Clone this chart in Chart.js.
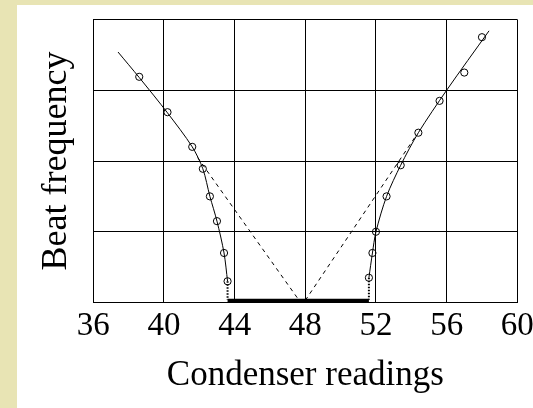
<!DOCTYPE html>
<html>
<head>
<meta charset="utf-8">
<script src="https://cdn.jsdelivr.net/npm/chart.js@4/dist/chart.umd.min.js"></script>
<style>
  html, body { margin: 0; padding: 0; width: 533px; height: 408px; overflow: hidden; background: #e8e4b4; }
  #wrap { position: absolute; left: 17px; top: 5px; width: 560px; height: 403px; background: #ffffff; }
  canvas { display: block; }
</style>
</head>
<body>
<div id="wrap"><canvas id="c" width="560" height="403"></canvas></div>
<script>
// Measured readings on the low side of the null
const readingsLow = [38.6, 40.2, 41.6, 42.2, 42.6, 43.0, 43.4, 43.6];
const beatsLow    = [3.19, 2.69, 2.20, 1.89, 1.50, 1.15, 0.70, 0.30];
// Measured readings on the high side of the null
const readingsHigh = [51.6, 51.8, 52.0, 52.6, 53.4, 54.4, 55.6, 57.0, 58.0];
const beatsHigh    = [0.35, 0.70, 1.00, 1.50, 1.94, 2.40, 2.85, 3.25, 3.75];

// Smooth curves drawn through the readings
const curveLowX  = [37.4, 38.6, 40.2, 41.6, 42.2, 42.6, 43.0, 43.4, 43.6];
const curveLowY  = [3.54, 3.18, 2.68, 2.20, 1.89, 1.50, 1.15, 0.70, 0.30];
const curveHighX = [51.6, 51.8, 52.0, 52.6, 53.4, 54.4, 56.0, 58.4];
const curveHighY = [0.35, 0.70, 1.00, 1.50, 1.94, 2.40, 3.00, 3.84];

// Straight-line extrapolations of the outer parts towards zero beat
const tangentLowX  = [41.9, 47.65];
const tangentLowY  = [2.05, 0.03];
const tangentHighX = [48.0, 54.3];
const tangentHighY = [0.03, 2.37];

// Silent band between the last audible readings
const bandX = [43.6, 51.6];
const bandY = [0.025, 0.025];
const dropY = [0.30, 0.04];

// Axis ticks
const xTicks = [36, 40, 44, 48, 52, 56, 60];
const yTicks = [0, 1, 2, 3, 4];

const pts = (xs, ys) => xs.map((x, i) => ({ x: x, y: ys[i] }));

const lineDs = (data, extra) => Object.assign({
  type: 'line',
  data: data,
  borderColor: '#000',
  borderWidth: 1,
  pointRadius: 0,
  fill: false,
  clip: false
}, extra || {});

const pointDs = (data) => ({
  type: 'scatter',
  data: data,
  showLine: false,
  pointStyle: 'circle',
  pointRadius: 3.6,
  pointBorderWidth: 1,
  pointBorderColor: '#000',
  pointBackgroundColor: 'rgba(0,0,0,0)',
  clip: false
});

const serif = 'Liberation Serif, Times New Roman, serif';
const lastLow = readingsLow[readingsLow.length - 1];

new Chart(document.getElementById('c'), {
  data: {
    datasets: [
      lineDs(pts(tangentLowX, tangentLowY), { borderDash: [4, 4] }),
      lineDs(pts(tangentHighX, tangentHighY), { borderDash: [4, 4] }),
      lineDs(pts(bandX, bandY), { borderWidth: 4, borderCapStyle: 'butt' }),
      lineDs(pts([lastLow, lastLow], [beatsLow[beatsLow.length - 1], dropY[1]]), { borderWidth: 2, borderDash: [1.5, 1.5] }),
      lineDs(pts([readingsHigh[0], readingsHigh[0]], [beatsHigh[0], dropY[1]]), { borderWidth: 2, borderDash: [1.5, 1.5] }),
      lineDs(pts(curveLowX, curveLowY), { tension: 0.3 }),
      lineDs(pts(curveHighX, curveHighY), { tension: 0.3 }),
      pointDs(pts(readingsLow, beatsLow)),
      pointDs(pts(readingsHigh, beatsHigh))
    ]
  },
  options: {
    responsive: false,
    animation: false,
    devicePixelRatio: 1,
    layout: { padding: { left: 14, top: 14.5, right: 59.7, bottom: 7.1 } },
    plugins: { legend: { display: false }, tooltip: { enabled: false } },
    scales: {
      x: {
        type: 'linear',
        min: 36,
        max: 60,
        afterBuildTicks: (s) => { s.ticks = xTicks.map(v => ({ value: v })); },
        ticks: {
          color: '#000',
          padding: 4,
          maxRotation: 0,
          autoSkip: false,
          font: { family: serif, size: 33 }
        },
        grid: { color: '#000', lineWidth: 1, drawTicks: false },
        border: { color: '#000', width: 1 },
        title: {
          display: true,
          text: 'Condenser readings',
          color: '#000',
          font: { family: serif, size: 35 },
          padding: { top: 4.8, bottom: 4 }
        }
      },
      y: {
        type: 'linear',
        min: 0,
        max: 4,
        afterBuildTicks: (s) => { s.ticks = yTicks.map(v => ({ value: v })); },
        ticks: { display: false },
        grid: { color: '#000', lineWidth: 1, drawTicks: false },
        border: { color: '#000', width: 1 },
        title: {
          display: true,
          text: 'Beat frequency',
          color: '#000',
          font: { family: serif, size: 36 },
          padding: { top: 3.6, bottom: 15.5 }
        }
      }
    }
  }
});
</script>
</body>
</html>
